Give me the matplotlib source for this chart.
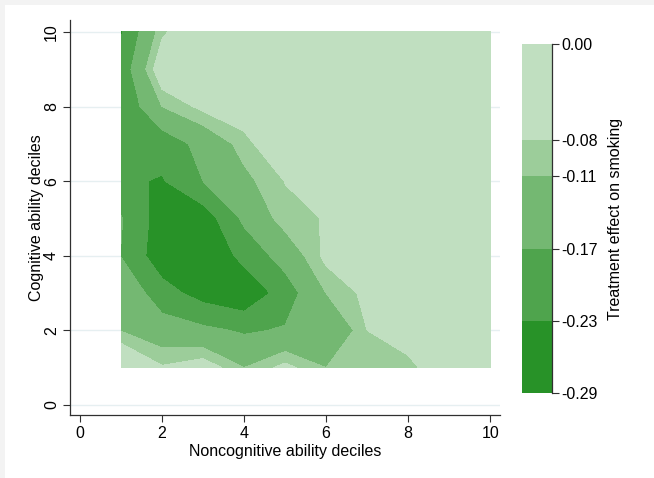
import matplotlib
matplotlib.use("Agg")
import matplotlib.pyplot as plt
import numpy as np
from matplotlib.patches import Rectangle

plt.rcParams['font.family'] = ['Liberation Sans', 'DejaVu Sans']

# Deciles
noncog_deciles = [1, 2, 3, 4, 5, 6, 7, 8, 9, 10]
cog_deciles = [1, 2, 3, 4, 5, 6, 7, 8, 9, 10]

# Treatment effect on smoking; one row per cognitive decile (1..10), columns = noncognitive deciles 1..10
effect_cog1 = [-0.020, -0.076, -0.055, -0.110, -0.068, -0.110, -0.100, -0.090, -0.050, -0.030]
effect_cog2 = [-0.112, -0.140, -0.157, -0.177, -0.165, -0.170, -0.080, -0.060, -0.040, -0.030]
effect_cog3 = [-0.120, -0.205, -0.255, -0.281, -0.200, -0.110, -0.070, -0.050, -0.040, -0.030]
effect_cog4 = [-0.172, -0.268, -0.290, -0.210, -0.146, -0.069, -0.050, -0.040, -0.030, -0.020]
effect_cog5 = [-0.166, -0.260, -0.265, -0.158, -0.091, -0.078, -0.060, -0.050, -0.030, -0.020]
effect_cog6 = [-0.220, -0.235, -0.170, -0.122, -0.079, -0.060, -0.050, -0.040, -0.030, -0.020]
effect_cog7 = [-0.220, -0.206, -0.150, -0.094, -0.036, -0.040, -0.030, -0.020, -0.020, -0.010]
effect_cog8 = [-0.222, -0.110, -0.070, -0.052, -0.040, -0.030, -0.020, -0.020, -0.010, -0.010]
effect_cog9 = [-0.210, -0.045, -0.020, -0.030, -0.030, -0.020, -0.020, -0.010, -0.010, -0.005]
effect_cog10 = [-0.235, -0.088, -0.030, -0.030, -0.020, -0.020, -0.010, -0.010, -0.005, 0.000]

levels = [-0.29, -0.23, -0.17, -0.11, -0.08, 0.00]
level_labels = ['-0.29', '-0.23', '-0.17', '-0.11', '-0.08', '0.00']
fill_colors = ['#289228', '#4fa44d', '#74b872', '#9ccd9a', '#c0dfc0']
axis_ticks = [0, 2, 4, 6, 8, 10]

Z = np.array([effect_cog1, effect_cog2, effect_cog3, effect_cog4, effect_cog5,
              effect_cog6, effect_cog7, effect_cog8, effect_cog9, effect_cog10])
X, Y = np.meshgrid(noncog_deciles, cog_deciles)

FS = 11.5
W, H = 654, 478
fig = plt.figure(figsize=(W / 100, H / 100), dpi=100)
fig.patch.set_facecolor('#f3f3f3')
fig.add_artist(Rectangle((5 / W, 0), 1, 1 - 5 / H, transform=fig.transFigure,
                         facecolor='white', edgecolor='none', zorder=0))

ax = fig.add_axes([70 / W, (H - 415) / H, (500 - 70) / W, (415 - 20) / H])
ax.set_facecolor('white')
cs = ax.contourf(X, Y, Z, levels=levels, colors=fill_colors, zorder=2)

ax.set_xlim(-0.244, 10.24)
ax.set_ylim(-0.268, 10.32)
ax.set_xticks(axis_ticks)
ax.set_yticks(axis_ticks)
ax.set_xticklabels([str(t) for t in axis_ticks])
ax.set_yticklabels([str(t) for t in axis_ticks], rotation=90, va='center')
ax.yaxis.grid(True, color='#e6eff1', linewidth=1.0, zorder=0)
ax.set_axisbelow(True)
for s in ['top', 'right']:
    ax.spines[s].set_visible(False)
for s in ['left', 'bottom']:
    ax.spines[s].set_color('#303030')
    ax.spines[s].set_linewidth(0.9)
ax.tick_params(axis='both', direction='out', length=5, width=0.8, color='#303030',
               labelsize=FS, labelcolor='black', pad=3)
ax.set_xlabel('Noncognitive ability deciles', fontsize=FS, labelpad=2)
ax.set_ylabel('Cognitive ability deciles', fontsize=FS, labelpad=0)

cax = fig.add_axes([522 / W, (H - 393) / H, 30 / W, (393 - 44) / H])
cb = fig.colorbar(cs, cax=cax, spacing='proportional', ticks=levels)
cb.set_ticklabels(level_labels)
cb.outline.set_visible(False)
cax.plot([1, 1], [0, 1], transform=cax.transAxes, color='#303030', linewidth=0.9,
         clip_on=False, zorder=5)
cax.tick_params(axis='y', direction='out', length=5, width=0.8, color='#303030',
                labelsize=FS, pad=2)
cb.set_label('Treatment effect on smoking', fontsize=FS, labelpad=7)

fig.savefig('out.png', dpi=100)
